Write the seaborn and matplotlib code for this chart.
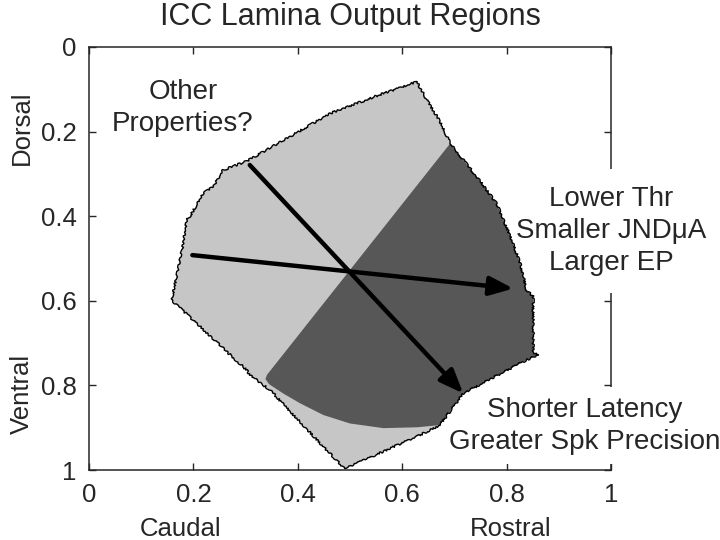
import matplotlib
matplotlib.use('Agg')
import matplotlib.pyplot as plt
from matplotlib.patches import ArrowStyle
import seaborn as sns
import pandas as pd

sns.set_style('ticks')
plt.rcParams['font.family'] = ['Liberation Sans', 'DejaVu Sans']

# --- data (x: caudal->rostral, y: dorsal->ventral) ---
outline_x = [0.628, 0.647, 0.672, 0.692, 0.743, 0.781, 0.807, 0.826, 0.838, 0.851,
             0.851, 0.861, 0.838, 0.717, 0.672, 0.630, 0.580, 0.530, 0.490,
             0.449, 0.347, 0.308, 0.302, 0.206, 0.158, 0.168, 0.180, 0.187, 0.193,
             0.219, 0.238, 0.257, 0.302, 0.385, 0.462, 0.557, 0.628]
outline_y = [0.082, 0.125, 0.175, 0.228, 0.307, 0.370, 0.448, 0.511, 0.574, 0.590,
             0.724, 0.728, 0.740, 0.819, 0.894, 0.920, 0.947, 0.975, 0.997,
             0.945, 0.811, 0.775, 0.764, 0.653, 0.598, 0.543, 0.468, 0.409, 0.401,
             0.346, 0.330, 0.291, 0.270, 0.212, 0.157, 0.113, 0.082]

dark_x = [0.692, 0.743, 0.781, 0.807, 0.826, 0.838, 0.851, 0.851, 0.861, 0.838,
          0.717, 0.672, 0.628, 0.564, 0.500, 0.449, 0.404, 0.372, 0.345, 0.338, 0.341]
dark_y = [0.228, 0.307, 0.370, 0.448, 0.511, 0.574, 0.590, 0.724, 0.728, 0.740,
          0.819, 0.894, 0.899, 0.901, 0.890, 0.870, 0.842, 0.819, 0.797, 0.785, 0.775]

arrow_start = [(0.198, 0.492), (0.308, 0.279)]
arrow_end = [(0.813, 0.571), (0.717, 0.819)]

ticks = [0, 0.2, 0.4, 0.6, 0.8, 1]
tick_labels = ['0', '0.2', '0.4', '0.6', '0.8', '1']

light = '#c6c6c6'
dark = '#575757'

fig = plt.figure(figsize=(7.2, 5.4), dpi=100)
ax = fig.add_axes([0.1236, 0.1296, 0.725, 0.7834])

# region shapes sit above the white label boxes, boxes sit above the spines
ax.fill(outline_x, outline_y, color=light, lw=0, zorder=3.5)
ax.fill(dark_x, dark_y, color=dark, lw=0, zorder=3.6)

outline = pd.DataFrame({'x': outline_x, 'y': outline_y})
sns.lineplot(data=outline, x='x', y='y', sort=False, estimator=None,
             color='black', lw=1.0, ax=ax, zorder=3.7)
ax.lines[-1].set_sketch_params(scale=1.0, length=5, randomness=8)

head = ArrowStyle('-|>', head_length=0.55, head_width=0.22)
for (x0, y0), (x1, y1) in zip(arrow_start, arrow_end):
    ax.annotate('', xy=(x1, y1), xytext=(x0, y0),
                arrowprops=dict(arrowstyle=head, lw=3.2, color='black',
                                mutation_scale=26, shrinkA=0, shrinkB=0),
                zorder=4)

ax.set_xlim(0, 1)
ax.set_ylim(1, 0)
ax.set_xticks(ticks, tick_labels)
ax.set_yticks(ticks, tick_labels)
ax.set_xlabel('')
ax.set_ylabel('')
ax.tick_params(direction='in', top=True, right=True, length=5, width=1,
               labelsize=18.5, pad=9)
for sp in ax.spines.values():
    sp.set_linewidth(1.1)

ax.set_title('ICC Lamina Output Regions', fontsize=22, pad=16)

ax.text(0.18, 0.145, 'Other\nProperties?', ha='center', va='center',
        fontsize=20, linespacing=1.3, zorder=5)
ax.text(1.0, 0.435, 'Lower Thr\nSmaller JNDμA\nLarger EP', ha='center', va='center',
        fontsize=20, linespacing=1.3, zorder=3, clip_on=False,
        bbox=dict(fc='white', ec='none', boxstyle='square,pad=0.6'))
ax.text(0.95, 0.895, 'Shorter Latency\nGreater Spk Precision', ha='center',
        va='center', fontsize=20, linespacing=1.3, zorder=3, clip_on=False,
        bbox=dict(fc='white', ec='none', boxstyle='square,pad=0.35'))

ax.text(0.176, 1.14, 'Caudal', ha='center', va='center', fontsize=18.5, clip_on=False)
ax.text(0.807, 1.14, 'Rostral', ha='center', va='center', fontsize=18.5, clip_on=False)
ax.text(-0.128, 0.19, 'Dorsal', ha='center', va='center', rotation=90,
        fontsize=18.5, clip_on=False)
ax.text(-0.128, 0.82, 'Ventral', ha='center', va='center', rotation=90,
        fontsize=18.5, clip_on=False)

fig.savefig('out.png', dpi=100)
